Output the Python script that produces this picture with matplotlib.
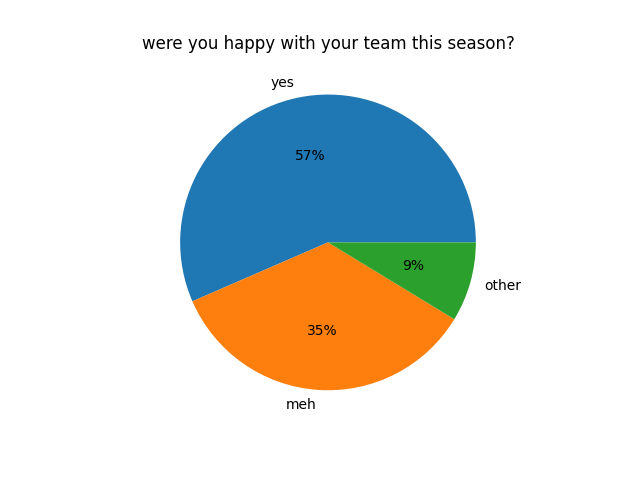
import matplotlib
matplotlib.use("Agg")
import matplotlib.pyplot as plt

# survey answers (counts)
labels = ["yes", "meh", "other"]
counts = [13, 8, 2]

fig, ax = plt.subplots(figsize=(6.4, 4.8), dpi=100)
ax.pie(counts, labels=labels, autopct="%1.0f%%")
ax.set_title("were you happy with your team this season?")

plt.savefig("out.png")
